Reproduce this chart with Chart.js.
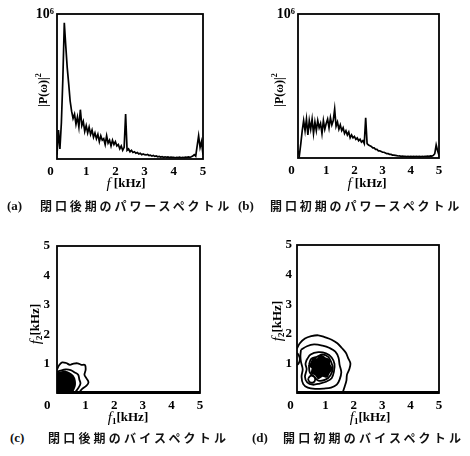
<!DOCTYPE html>
<html><head><meta charset="utf-8">
<script src="https://cdn.jsdelivr.net/npm/chart.js@4.4.1/dist/chart.umd.min.js"></script>
<style>
body{margin:0;background:#fff;width:470px;height:456px;position:relative;overflow:hidden}
canvas{position:absolute}
.cap{position:absolute;font-family:"Noto Sans CJK JP";font-weight:700;font-size:12px;color:#111;white-space:nowrap;line-height:14px}
.lab{position:absolute;font-family:"Liberation Serif";font-weight:700;font-size:13px;line-height:14px;color:#111}
</style></head><body>
<canvas id="ca" width="235" height="200" style="left:0;top:0"></canvas>
<canvas id="cb" width="235" height="200" style="left:235px;top:0"></canvas>
<canvas id="cc" width="235" height="200" style="left:0;top:230px"></canvas>
<canvas id="cd" width="235" height="200" style="left:235px;top:230px"></canvas>
<div class="lab" style="left:7px;top:199px">(a)</div><div class="cap" style="left:40px;top:199px;letter-spacing:2.9px">閉口後期のパワースペクトル</div>
<div class="lab" style="left:238px;top:199px">(b)</div><div class="cap" style="left:270px;top:199px;letter-spacing:2.9px">開口初期のパワースペクトル</div>
<div class="lab" style="left:10px;top:431px">(c)</div><div class="cap" style="left:48px;top:431px;letter-spacing:3.2px">閉口後期のバイスペクトル</div>
<div class="lab" style="left:252px;top:431px">(d)</div><div class="cap" style="left:283px;top:431px;letter-spacing:3.2px">開口初期のバイスペクトル</div>
<script>
// ---- data ----
const freqKHz = Array.from({length:101},(_, i)=> +(i*0.05).toFixed(2));
// |P(w)|^2 in units of 10^6
const powerLate = [0.03,0.20,0.07,0.25,0.55,0.94,0.78,0.63,0.52,0.40,
0.33,0.28,0.31,0.24,0.29,0.22,0.34,0.23,0.26,0.19,
0.23,0.18,0.22,0.17,0.20,0.15,0.18,0.14,0.17,0.12,
0.16,0.13,0.14,0.10,0.16,0.11,0.13,0.09,0.13,0.10,
0.12,0.09,0.10,0.07,0.09,0.06,0.08,0.31,0.06,0.07,
0.05,0.06,0.045,0.05,0.04,0.045,0.035,0.04,0.03,0.035,
0.03,0.028,0.032,0.024,0.027,0.02,0.024,0.018,0.021,0.015,
0.018,0.013,0.016,0.012,0.015,0.011,0.014,0.01,0.013,0.011,
0.012,0.009,0.012,0.01,0.013,0.009,0.012,0.01,0.013,0.011,
0.014,0.011,0.015,0.02,0.03,0.02,0.09,0.16,0.08,0.12,0.03];
const powerEarly = [0.05,0.02,0.10,0.19,0.26,0.19,0.27,0.16,0.26,0.20,
0.27,0.17,0.25,0.19,0.26,0.21,0.24,0.17,0.26,0.20,
0.24,0.27,0.21,0.28,0.23,0.26,0.34,0.22,0.25,0.20,
0.23,0.19,0.21,0.17,0.19,0.16,0.18,0.14,0.16,0.14,
0.15,0.13,0.14,0.12,0.13,0.11,0.12,0.10,0.28,0.10,
0.09,0.085,0.08,0.07,0.07,0.06,0.06,0.05,0.05,0.045,
0.04,0.04,0.035,0.03,0.03,0.025,0.025,0.02,0.02,0.018,
0.016,0.014,0.015,0.012,0.013,0.011,0.012,0.01,0.012,0.01,
0.011,0.009,0.011,0.01,0.012,0.01,0.011,0.009,0.012,0.01,
0.012,0.011,0.013,0.012,0.015,0.013,0.018,0.03,0.09,0.05,0.02];
const freqTicks = [0,1,2,3,4,5];
const bispecTicks = [1,2,3,4,5];
// bispectrum contour lines [f1,f2] in kHz
const contourC1 = [[0,0.8],[0.08,0.95],[0.18,1.04],[0.32,1.02],[0.45,0.96],[0.58,1.0],[0.72,1.01],[0.85,0.96],[0.98,0.95],[1.0,0.78],[0.96,0.62],[1.03,0.5],[1.1,0.36],[1.02,0.24],[0.88,0.14],[0.8,0.05],[0.76,0]];
const contourC2 = [[0,0.72],[0.12,0.76],[0.3,0.8],[0.48,0.78],[0.62,0.7],[0.74,0.62],[0.78,0.46],[0.82,0.32],[0.74,0.16],[0.66,0.06],[0.62,0]];
const coreC = [[0,0.66],[0.12,0.7],[0.28,0.72],[0.42,0.68],[0.55,0.58],[0.62,0.42],[0.62,0.24],[0.56,0.1],[0.52,0],[0,0],[0,0.66]];
const spotsC = [[0.28,0.25],[0.42,0.6]];
const contourD1 = [[0,1.5],[0.1,1.68],[0.28,1.84],[0.5,1.92],[0.75,1.95],[1.0,1.88],[1.22,1.8],[1.42,1.68],[1.58,1.52],[1.72,1.36],[1.8,1.18],[1.88,1.0],[1.84,0.8],[1.76,0.62],[1.74,0.42],[1.68,0.22],[1.62,0.05],[1.6,0]];
const contourD2 = [[0.14,1.46],[0.35,1.58],[0.6,1.64],[0.9,1.6],[1.15,1.52],[1.35,1.4],[1.46,1.2],[1.5,0.95],[1.56,0.7],[1.5,0.45],[1.4,0.28],[1.2,0.18],[0.95,0.15],[0.65,0.14],[0.38,0.18],[0.22,0.3],[0.16,0.55],[0.2,0.8],[0.14,1.05],[0.12,1.25],[0.14,1.46]];
const contourD3 = [[0.34,1.12],[0.48,1.3],[0.75,1.38],[1.02,1.34],[1.22,1.2],[1.32,0.98],[1.3,0.72],[1.22,0.5],[1.02,0.38],[0.8,0.32],[0.55,0.28],[0.36,0.36],[0.28,0.55],[0.34,0.8],[0.3,0.98],[0.34,1.12]];
const contourD4 = [[0.42,0.95],[0.5,1.15],[0.7,1.22],[0.9,1.3],[1.1,1.22],[1.2,1.05],[1.26,0.85],[1.18,0.6],[1.0,0.45],[0.75,0.42],[0.6,0.55],[0.45,0.7],[0.42,0.95]];
const coreD = [[0.5,1.0],[0.58,1.16],[0.72,1.14],[0.85,1.26],[0.98,1.18],[1.12,1.12],[1.14,0.96],[1.22,0.82],[1.12,0.68],[1.05,0.55],[0.9,0.58],[0.75,0.5],[0.66,0.62],[0.52,0.68],[0.55,0.84],[0.46,0.92],[0.5,1.0]];
const loopD = [[0.4,0.5],[0.48,0.58],[0.6,0.56],[0.64,0.45],[0.58,0.36],[0.46,0.36],[0.4,0.44],[0.4,0.5]];
const edgeD = [[0,1.35],[0.06,1.28],[0.1,1.14],[0.06,1.0],[0,0.95]];
const spotsD = [[0.9,0.9]];

// ---- drawing ----
const SERIF = '"Liberation Serif","DejaVu Serif",serif';
function pts(a){return a.map(p=>({x:p[0],y:p[1]}));}
function lineDS(a,w,t){return {data:pts(a),showLine:true,borderColor:'#000',borderWidth:w||1.8,pointRadius:0,tension:t===undefined?0.35:t,fill:false};}
function coreDS(a){return {data:pts(a),showLine:true,borderColor:'#000',backgroundColor:'#000',borderWidth:2,pointRadius:0,tension:0.3,fill:'shape'};}
function spotDS(a,r){return {data:pts(a),showLine:false,pointRadius:r,pointBackgroundColor:'#fff',pointBorderWidth:0,borderColor:'#fff'};}
function specDS(v){return {data:freqKHz.map((f,i)=>({x:f,y:v[i]})),showLine:true,borderColor:'#000',borderWidth:1.7,pointRadius:0,tension:0,fill:false};}

function drawSegs(ctx,segs,cx,cy,rot){
  ctx.save();ctx.translate(cx,cy);if(rot)ctx.rotate(-Math.PI/2);
  ctx.fillStyle='#000';ctx.textBaseline='middle';
  let tot=0;segs.forEach(s=>{ctx.font=s.f;s.w=ctx.measureText(s.t).width;tot+=s.w;});
  let x=-tot/2;segs.forEach(s=>{ctx.font=s.f;ctx.fillText(s.t,x,s.dy||0);x+=s.w;});
  ctx.restore();
}
function deco(o){return {id:'deco',afterDraw(chart){
  const ctx=chart.ctx,a=chart.chartArea;ctx.save();
  ctx.strokeStyle='#000';ctx.lineWidth=1.8;
  ctx.strokeRect(a.left,a.top,a.right-a.left,a.bottom-a.top);
  if(o.thickBottom){ctx.lineWidth=3;ctx.beginPath();ctx.moveTo(a.left,a.bottom-0.5);ctx.lineTo(a.right,a.bottom-0.5);ctx.stroke();}
  ctx.restore();
  drawSegs(ctx,o.xTitle,o.xt[0],o.xt[1],false);
  drawSegs(ctx,o.yTitle,o.yt[0],o.yt[1],true);
}};}
const tickFont={family:SERIF,size:13,weight:'bold'};
function makeChart(id,o){
  const cv=document.getElementById(id),W=cv.width,H=cv.height;
  return new Chart(cv,{type:'scatter',data:{datasets:o.datasets},
    options:{responsive:false,animation:false,devicePixelRatio:1,
      layout:{padding:{left:0,top:o.area.top,right:W-o.area.right,bottom:0}},
      plugins:{legend:{display:false},tooltip:{enabled:false}},
      scales:{
        x:{type:'linear',min:0,max:5,afterBuildTicks(s){s.ticks=freqTicks.map(v=>({value:v}));},
          ticks:{padding:o.xpad,color:'#000',font:tickFont,maxRotation:0,autoSkip:false,
            callback:v=>v===0?'0'+o.zeroPad:String(v)},
          grid:{display:false,drawTicks:false},border:{display:false},
          afterFit(s){s.height=H-o.area.bottom;}},
        y:{type:'linear',min:0,max:o.ymax,afterBuildTicks(s){s.ticks=o.yTicks.map(v=>({value:v}));},
          ticks:{padding:o.ypad,color:'#000',font:o.yFont||tickFont,autoSkip:false,callback:o.yLabel},
          grid:{display:false,drawTicks:false},border:{display:false},
          afterFit(s){s.width=o.area.left;}}
      }},
    plugins:[deco(o)]});
}
const fT=[{t:'f',f:'italic 15px '+SERIF},{t:' [kHz]',f:'bold 13px '+SERIF}];
const f1T=[{t:'f',f:'italic 15px '+SERIF},{t:'1',f:'bold 9px '+SERIF,dy:4},{t:'[kHz]',f:'bold 13px '+SERIF}];
const f2T=[{t:'f',f:'italic 15px '+SERIF},{t:'2',f:'bold 9px '+SERIF,dy:4},{t:'[kHz]',f:'bold 13px '+SERIF}];
const pT=[{t:'|P(ω)|',f:'bold 12px '+SERIF},{t:'2',f:'bold 8px '+SERIF,dy:-5}];
const fs='\u2007';
const bigTick={family:SERIF,size:14,weight:'bold'};
makeChart('ca',{area:{left:57,right:203,top:14,bottom:159},ymax:1,yTicks:[1],yLabel:v=>v===1?'10⁶':'',yFont:bigTick,
  xpad:5,ypad:3,zeroPad:fs+fs,xTitle:fT,xt:[126,184],yTitle:pT,yt:[44,90],
  datasets:[specDS(powerLate)]});
makeChart('cb',{area:{left:63,right:204,top:14,bottom:158},ymax:1,yTicks:[1],yLabel:v=>v===1?'10⁶':'',yFont:bigTick,
  xpad:5,ypad:3,zeroPad:fs+fs,xTitle:fT,xt:[132,184],yTitle:pT,yt:[45,90],
  datasets:[specDS(powerEarly)]});
makeChart('cc',{area:{left:57,right:200,top:16,bottom:163},ymax:5,yTicks:bispecTicks,yLabel:v=>String(v),
  xpad:5,ypad:7,zeroPad:fs+fs+fs,xTitle:f1T,xt:[128,188],yTitle:f2T,yt:[36,94],thickBottom:true,
  datasets:[coreDS(coreC),lineDS(contourC1),lineDS(contourC2),spotDS(spotsC,2.2)]});
makeChart('cd',{area:{left:62,right:204,top:15,bottom:163},ymax:5,yTicks:bispecTicks,yLabel:v=>String(v),
  xpad:5,ypad:5,zeroPad:fs+fs,xTitle:f1T,xt:[135,188],yTitle:f2T,yt:[43,91],thickBottom:true,
  datasets:[lineDS(contourD1),lineDS(contourD2),lineDS(contourD3),lineDS(contourD4),coreDS(coreD),lineDS(loopD),lineDS(edgeD),spotDS(spotsD,2.2)]});
</script>
</body></html>
